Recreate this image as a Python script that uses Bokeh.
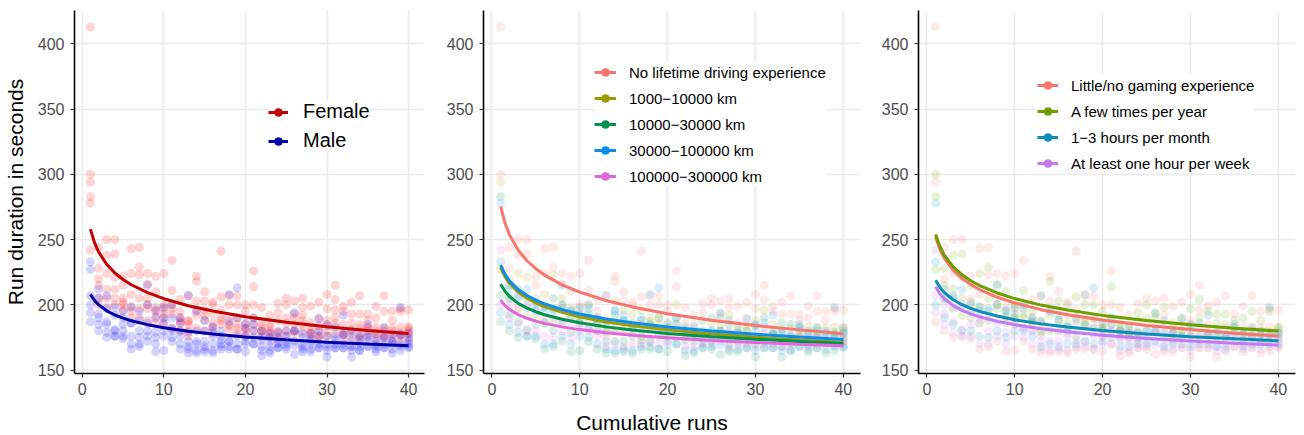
from bokeh.plotting import figure
from bokeh.models import Range1d, FixedTicker, Legend, LegendItem, ColumnDataSource, Div
from bokeh.layouts import row, column
from bokeh.embed import file_html
from bokeh.resources import INLINE

FONT = "Liberation Sans"

runs = list(range(1, 41))

# Run durations (seconds) of each participant over runs 1..40
dur_p01 = [413, 244, 250, 250, 222, 243, 244, 224, 222, 224, 234, 204, 207, 222, 210, 202, 241, 207, 207, 200,
           226, 198, 192, 201, 205, 203, 205, 199, 202, 208, 215, 199, 202, 207, 193, 199, 207, 195, 197, 196]
dur_p02 = [300, 228, 238, 239, 215, 224, 229, 216, 210, 200, 211, 195, 188, 218, 203, 200, 206, 200, 200, 195,
           214, 186, 185, 194, 200, 193, 198, 186, 190, 197, 204, 195, 193, 193, 188, 190, 195, 188, 195, 183]
dur_p03 = [294, 220, 224, 221, 205, 208, 223, 205, 198, 197, 200, 190, 185, 203, 196, 193, 196, 190, 185, 185,
           200, 180, 180, 180, 186, 185, 192, 180, 184, 188, 196, 185, 181, 182, 180, 183, 183, 182, 183, 180]
dur_p04 = [283, 215, 212, 205, 200, 199, 205, 197, 191, 190, 193, 186, 180, 192, 188, 186, 188, 185, 190, 182,
           190, 183, 178, 188, 190, 190, 185, 183, 180, 184, 190, 180, 186, 185, 183, 178, 180, 178, 179, 182]
dur_p05 = [278, 205, 205, 212, 202, 195, 197, 200, 195, 193, 197, 188, 187, 196, 192, 183, 190, 184, 182, 180,
           185, 180, 183, 178, 180, 180, 188, 178, 176, 180, 186, 178, 178, 176, 182, 180, 176, 180, 176, 178]
dur_p06 = [242, 200, 198, 200, 196, 190, 190, 188, 186, 185, 182, 180, 176, 182, 180, 178, 185, 180, 178, 176,
           180, 175, 175, 174, 176, 178, 180, 176, 174, 176, 178, 174, 172, 175, 176, 174, 175, 174, 172, 174]
dur_p07 = [233, 212, 207, 198, 195, 198, 195, 215, 196, 198, 200, 190, 207, 195, 188, 183, 180, 208, 213, 186,
           190, 180, 178, 179, 180, 194, 178, 178, 189, 185, 183, 192, 180, 177, 185, 177, 182, 177, 198, 178]
dur_p08 = [227, 205, 197, 192, 190, 186, 188, 200, 190, 190, 190, 186, 179, 180, 180, 180, 176, 187, 190, 182,
           185, 176, 175, 175, 176, 180, 175, 174, 180, 176, 176, 177, 175, 174, 178, 172, 176, 172, 177, 175]
dur_p09 = [207, 193, 187, 181, 185, 186, 180, 186, 179, 186, 182, 180, 172, 172, 172, 176, 173, 172, 176, 176,
           180, 173, 172, 171, 172, 180, 170, 172, 176, 170, 173, 177, 168, 171, 175, 170, 174, 172, 177, 172]
dur_p10 = [200, 190, 185, 180, 180, 176, 175, 180, 175, 180, 180, 176, 168, 170, 168, 170, 170, 172, 170, 172,
           175, 168, 168, 170, 170, 172, 168, 170, 170, 168, 170, 170, 168, 168, 172, 168, 170, 170, 170, 170]
dur_p11 = [194, 185, 179, 176, 176, 170, 170, 176, 170, 176, 175, 170, 166, 165, 166, 165, 168, 168, 166, 170,
           170, 165, 165, 167, 168, 169, 166, 166, 167, 165, 167, 167, 165, 165, 168, 166, 167, 166, 168, 168]
dur_p12 = [187, 180, 175, 176, 174, 166, 168, 172, 164, 165, 172, 166, 163, 163, 164, 163, 166, 166, 166, 164,
           170, 161, 163, 167, 166, 162, 164, 164, 167, 160, 167, 167, 160, 165, 168, 164, 167, 163, 165, 167]

sex_groups = ["Female", "Male"]
driving_groups = ["No lifetime driving experience", "1000\u221210000 km", "10000\u221230000 km",
                  "30000\u2212100000 km", "100000\u2212300000 km"]
gaming_groups = ["Little/no gaming experience", "A few times per year", "1\u22123 hours per month",
                 "At least one hour per week"]

# participant attributes (same order as the duration lists)
p_sex = ["Female"] * 6 + ["Male"] * 6
p_driving = [driving_groups[i] for i in (0, 0, 1, 2, 3, 4, 3, 1, 2, 4, 3, 2)]
p_gaming = [gaming_groups[i] for i in (0, 1, 0, 1, 2, 3, 2, 1, 3, 2, 3, 0)]

# fitted learning curves evaluated at these runs
fit_runs = [1, 1.5, 2, 3, 4, 5, 6, 8, 10, 13, 16, 20, 25, 30, 35, 40]
fit_female = [258, 247.7, 240.6, 231.0, 224.4, 219.4, 215.4, 209.3, 204.7, 199.3, 195.2, 190.9, 186.6, 183.2, 180.4, 178.0]
fit_male = [208, 203.3, 200.0, 195.4, 192.2, 189.8, 187.8, 184.8, 182.5, 179.8, 177.6, 175.4, 173.2, 171.4, 169.9, 168.6]

fit_drive_none = [275.5, 262.5, 253.8, 241.9, 233.8, 227.7, 222.8, 215.3, 209.7, 203.3, 198.4, 193.2, 188.1, 184.1, 180.8, 177.9]
fit_drive_1k = [228.6, 221.4, 216.5, 209.7, 205.1, 201.5, 198.6, 194.2, 190.8, 186.9, 183.9, 180.8, 177.6, 175.1, 173.0, 171.2]
fit_drive_10k = [215.8, 210.3, 206.4, 201.1, 197.5, 194.7, 192.4, 188.9, 186.2, 183.1, 180.7, 178.1, 175.6, 173.6, 171.9, 170.4]
fit_drive_30k = [230.4, 223.3, 218.4, 211.7, 207.1, 203.6, 200.7, 196.3, 193.0, 189.2, 186.2, 183.0, 179.9, 177.4, 175.3, 173.5]
fit_drive_100k = [203.6, 199.4, 196.5, 192.5, 189.7, 187.5, 185.8, 183.1, 181.0, 178.6, 176.7, 174.7, 172.7, 171.1, 169.8, 168.6]

fit_game_none = [252, 242.2, 235.6, 226.4, 220.2, 215.5, 211.7, 205.9, 201.4, 196.3, 192.4, 188.3, 184.2, 181.0, 178.3, 176.0]
fit_game_year = [253.9, 244.5, 238.0, 229.1, 223.1, 218.5, 214.8, 209.1, 204.8, 199.8, 196.0, 191.9, 188.0, 184.8, 182.1, 179.9]
fit_game_month = [218.9, 213.2, 209.3, 203.9, 200.1, 197.3, 195.0, 191.4, 188.6, 185.4, 183.0, 180.3, 177.7, 175.6, 173.9, 172.4]
fit_game_week = [213.8, 208.3, 204.6, 199.4, 195.8, 193.0, 190.8, 187.3, 184.7, 181.6, 179.3, 176.7, 174.2, 172.2, 170.5, 169.1]

x_ticks = [0, 10, 20, 30, 40]
y_ticks = [150, 200, 250, 300, 350, 400]

sex_colors = {"Female": "#C40000", "Male": "#0000A8"}
sex_point_colors = {"Female": "#FF0000", "Male": "#0000FF"}
driving_colors = ["#F8766D", "#9E9A00", "#00934F", "#0A8DEB", "#E266DC"]
gaming_colors = ["#F8766D", "#6C9E00", "#0A8DB8", "#C47AF5"]

all_durations = [dur_p01, dur_p02, dur_p03, dur_p04, dur_p05, dur_p06,
                 dur_p07, dur_p08, dur_p09, dur_p10, dur_p11, dur_p12]

# long table: one row per participant and run
xs, ys, sx, dv, gm = [], [], [], [], []
for series, s, d, g in zip(all_durations, p_sex, p_driving, p_gaming):
    for r, v in zip(runs, series):
        xs.append(r)
        ys.append(v)
        sx.append(s)
        dv.append(d)
        gm.append(g)


def make_panel(width, left, right, y_label=None):
    p = figure(width=width, height=403, output_backend="svg", toolbar_location=None,
               x_range=Range1d(-0.95, 41.95), y_range=Range1d(147.35, 425.65),
               min_border_left=left, min_border_right=right, min_border_top=10, min_border_bottom=30)
    p.outline_line_color = None
    p.background_fill_color = "white"
    for ax in (p.xaxis[0], p.yaxis[0]):
        ax.axis_line_color = "black"
        ax.axis_line_width = 1.6
        ax.major_tick_line_color = "#333333"
        ax.major_tick_line_width = 1.2
        ax.major_tick_in = 0
        ax.major_tick_out = 4
        ax.minor_tick_line_color = None
        ax.major_label_text_font = FONT
        ax.major_label_text_font_size = "16px"
        ax.major_label_text_color = "#4D4D4D"
    p.xaxis.ticker = FixedTicker(ticks=x_ticks)
    p.yaxis.ticker = FixedTicker(ticks=y_ticks)
    p.xaxis.major_label_standoff = 5
    p.yaxis.major_label_standoff = 6
    p.xgrid.ticker = FixedTicker(ticks=x_ticks)
    p.ygrid.ticker = FixedTicker(ticks=y_ticks)
    for gr in (p.xgrid[0], p.ygrid[0]):
        gr.grid_line_color = "#EBEBEB"
        gr.grid_line_width = 1.5
    if y_label:
        p.yaxis.axis_label = y_label
        p.yaxis.axis_label_text_font = FONT
        p.yaxis.axis_label_text_font_size = "21px"
        p.yaxis.axis_label_text_font_style = "normal"
        p.yaxis.axis_label_text_color = "black"
        p.yaxis.axis_label_standoff = 8
    return p


def add_points(p, groups, key, colors, alpha):
    for grp, col in zip(groups, colors):
        px = [x for x, k in zip(xs, key) if k == grp]
        py = [y for y, k in zip(ys, key) if k == grp]
        p.scatter(px, py, size=9, fill_color=col, fill_alpha=alpha, line_color=None)


def add_curves(p, labels, curves, colors, font_size, loc, standoff, glyph_w, padding):
    items = []
    for lab, cv, col in zip(labels, curves, colors):
        src = ColumnDataSource(dict(x=fit_runs, y=cv))
        ln = p.line("x", "y", source=src, line_color=col, line_width=3)
        # zero-size markers on the curve: only their legend swatch (sized by the legend) shows
        dot = p.scatter("x", "y", source=src, size=0, fill_color=col, line_color=col, line_width=0.5)
        items.append(LegendItem(label=lab, renderers=[ln, dot]))
    leg = Legend(items=items, location=loc, orientation="vertical",
                 background_fill_color="white", background_fill_alpha=1.0,
                 border_line_color=None, padding=padding, margin=0, spacing=6,
                 glyph_height=20, glyph_width=glyph_w, label_height=20,
                 label_standoff=standoff, label_text_font=FONT,
                 label_text_font_size=font_size, label_text_color="black")
    p.add_layout(leg)


# panel 1: sex
p1 = make_panel(440, 72, 16, "Run duration in seconds")
add_points(p1, sex_groups, sx, [sex_point_colors[g] for g in sex_groups], 0.17)
add_curves(p1, sex_groups, [fit_female, fit_male], [sex_colors[g] for g in sex_groups],
           "20px", (194, 221), 15, 20, 8)

# panel 2: driving experience
p2 = make_panel(436, 43, 16)
add_points(p2, driving_groups, dv, driving_colors, 0.15)
add_curves(p2, driving_groups, [fit_drive_none, fit_drive_1k, fit_drive_10k, fit_drive_30k, fit_drive_100k],
           driving_colors, "15px", (111, 187), 13, 22, 10)

# panel 3: gaming experience
p3 = make_panel(428, 42, 9)
add_points(p3, gaming_groups, gm, gaming_colors, 0.15)
add_curves(p3, gaming_groups, [fit_game_none, fit_game_year, fit_game_month, fit_game_week],
           gaming_colors, "15px", (119, 200), 13, 21, 10)

x_title = Div(text="Cumulative runs", width=1304, height=32, margin=(0, 0, 0, 0),
              styles={"text-align": "center", "font-size": "21px", "font-family": FONT,
                      "color": "black", "line-height": "24px", "padding-top": "8px",
                      "width": "1304px"})

layout = column(row(p1, p2, p3), x_title)

with open("out.html", "w") as f:
    f.write(file_html(layout, INLINE))
